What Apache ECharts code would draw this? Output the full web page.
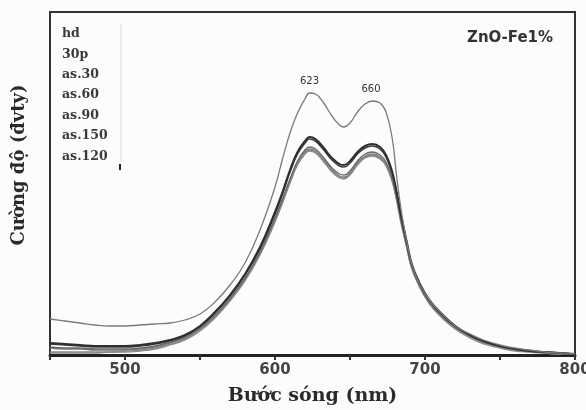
<!DOCTYPE html>
<html><head><meta charset="utf-8">
<script src="https://cdn.jsdelivr.net/npm/echarts@6/dist/echarts.min.js"></script>
<style>html,body{margin:0;padding:0;background:#fcfcfc}#c{width:586px;height:410px}</style>
</head><body><div id="c"></div>
<script>
const wavelengths = [450,460,470,480,490,500,510,520,530,540,550,560,570,580,590,600,605,610,615,620,623,627,632,638,643,646,650,655,660,665,670,674,678,681,684,688,691,696,703,712,721,730,739,750,760,770,780,790,800];
const seriesNames = ['hd','30p','as.30','as.60','as.90','as.150','as.120'];
const hd    = [36,34,32,30,29,29,30,31,32,35,41,53,70,92,125,168,196,222,242,256,262,261,253,239,230,228,232,243,251,254,252,243,218,180,146,112,92,72,55,40,28,21,15,10,7,5,3,2,1];
const p30   = [12,11,10,9,9,9,10,12,15,20,29,43,60,81,108,143,163,185,203,214,218,216,208,197,191,190,194,203,209,211,208,200,184,164,140,112,92,73,55,40,28,20,14,9,6,4,3,2,1];
const as30  = [8,7,7,6,6,6,7,9,13,18,27,40,57,77,103,137,156,176,194,205,208,206,198,187,181,180,184,194,201,203,200,193,178,159,136,109,90,71,53,38,27,19,13,9,6,4,3,2,1];
const as60  = [3,3,3,3,3,4,5,7,11,16,25,38,55,75,101,134,153,173,191,202,205,203,195,184,178,177,181,191,198,200,197,190,175,156,133,107,88,70,52,37,26,18,12,8,5,3,2,1,1];
const as90  = [11,10,9,8,8,8,9,11,14,19,28,42,59,80,106,141,161,183,201,212,216,214,206,195,189,188,192,201,207,209,206,198,182,162,139,111,91,72,54,39,28,20,14,9,6,4,3,2,1];
const as150 = [7,6,6,5,5,5,6,8,12,17,26,39,56,76,102,136,155,175,192,203,206,204,196,185,179,178,182,192,199,201,198,191,176,157,135,108,89,70,52,38,27,19,13,8,5,4,2,1,1];
const as120 = [2,2,2,2,3,3,4,6,10,15,24,37,54,74,100,133,152,172,190,201,204,202,194,183,177,176,180,190,197,199,196,189,174,155,132,106,87,69,51,36,25,17,11,7,4,3,2,1,1];
const peakLabels = [[623,262,'623'],[664,254,'660']];
const xTickLabels = ['500','600','700','800'];

const values = [hd,p30,as30,as60,as90,as150,as120];
const styles = [
  {color:'#7a7a7a', width:1.3},
  {color:'#2e2e2e', width:2},
  {color:'#666', width:1.4},
  {color:'#888', width:1.4},
  {color:'#3a3a3a', width:1.6},
  {color:'#777', width:1.3},
  {color:'#8a8a8a', width:1.3}
];
const series = values.map((arr,i)=>{
  const s = {
    name: seriesNames[i], type:'line', smooth:0.45, symbol:'none',
    data: wavelengths.map((w,j)=>[w,arr[j]]),
    lineStyle: {color: styles[i].color, width: styles[i].width},
    itemStyle: {color: styles[i].color},
    z: 10 - i
  };
  if (i === 0) {
    s.markPoint = {
      symbol:'circle', symbolSize:0, silent:true,
      label:{show:true, position:'inside', offset:[0,-12], color:'#333', fontFamily:'DejaVu Sans', fontSize:10},
      data: peakLabels.map(p=>({coord:[p[0],p[1]], value:p[2], label:{formatter:p[2]}}))
    };
  }
  return s;
});

const chart = echarts.init(document.getElementById('c'), null, {renderer:'canvas'});
chart.setOption({
  animation:false,
  backgroundColor:'#fcfcfc',
  title:{text:'ZnO-Fe1%', left:462, top:26,
    textStyle:{fontFamily:'DejaVu Sans', fontWeight:'bold', fontSize:15, color:'#333'}},
  legend:{
    orient:'vertical', left:52, top:22, itemWidth:0, itemHeight:0, itemGap:6.4,
    icon:'rect', selectedMode:false,
    textStyle:{fontFamily:'DejaVu Serif', fontWeight:'bold', fontSize:12.5, color:'#3a3a3a', lineHeight:14},
    data: seriesNames
  },
  grid:{left:50, right:11, top:12, bottom:55, outerBoundsMode:'none', containLabel:false,
    show:true, borderColor:'#333', borderWidth:2, backgroundColor:'transparent'},
  xAxis:{
    type:'value', min:450, max:800, interval:50,
    name:'Bước sóng (nm)', nameLocation:'middle', nameGap:32,
    nameTextStyle:{fontFamily:'DejaVu Serif', fontWeight:'bold', fontSize:19, color:'#2a2a2a'},
    axisLine:{show:true, lineStyle:{color:'#222', width:3}},
    axisTick:{show:true, length:5, lineStyle:{color:'#333', width:2}},
    axisLabel:{margin:8, fontFamily:'DejaVu Sans', fontWeight:'bold', fontSize:15, color:'#444',
      hideOverlap:false,
      formatter: v => xTickLabels.indexOf(String(v)) >= 0 ? String(v) : ''},
    splitLine:{show:false}
  },
  yAxis:{
    type:'value', min:0, max:343,
    axisLine:{show:true, lineStyle:{color:'#333', width:2}},
    axisTick:{show:false}, axisLabel:{show:false}, splitLine:{show:false}
  },
  graphic:[
    {type:'text', x:19, y:165, rotation:Math.PI/2,
      style:{text:'Cường độ (đvty)', align:'center', verticalAlign:'middle',
        fontFamily:'DejaVu Serif', fontWeight:'bold', fontSize:18, fill:'#2a2a2a'}},
    {type:'line', shape:{x1:121, y1:24, x2:121, y2:162}, style:{stroke:'#ddd', lineWidth:1}},
    {type:'rect', shape:{x:119, y:164, width:2, height:6}, style:{fill:'#222'}}
  ],
  series: series
});
</script></body></html>
